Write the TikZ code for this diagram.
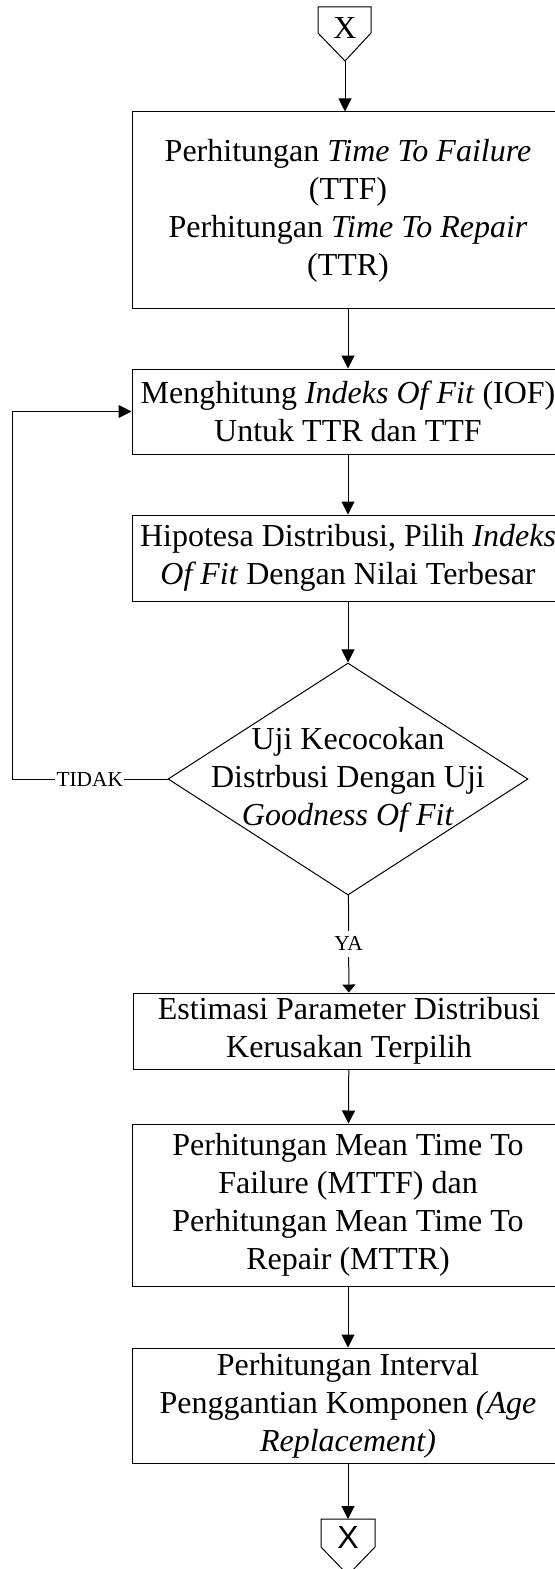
\documentclass[tikz,border=0pt]{standalone}
\usepackage{fontspec}
\setmainfont{Liberation Serif}
\newfontfamily\arialfont{Liberation Sans}
\usetikzlibrary{arrows.meta,shapes.geometric}

\tikzset{every picture/.style={line width=0.75pt}}
\tikzset{
	prosesbox/.style={draw, minimum width=324pt, inner sep=0pt, align=center, font=\fontsize{24}{28.5}\selectfont},
	keputusan/.style={draw, diamond, minimum width=270pt, minimum height=174pt, inner sep=0pt},
	teksbesar/.style={align=center, inner sep=0pt, font=\fontsize{24}{28.5}\selectfont},
	tekskecil/.style={fill=white, inner xsep=1pt, inner ysep=4.5pt, font=\fontsize{16}{19}\selectfont},
	panah/.style={-{Triangle[length=9.75pt,width=9.75pt]}},
	panahkecil/.style={-{Triangle[length=6pt,width=9.75pt]}}
}

\begin{document}
\begin{tikzpicture}[x=0.75pt,y=0.75pt,yscale=-1,xscale=1]
	\useasboundingbox (0,0) rectangle (554,1569);

	%Shape: Off-page connector [top]
	\draw (318,7) -- (371,7) -- (371,33) -- (345,61) -- (318,33) -- cycle ;
	\coordinate (xatasujung) at (345,61);
	% Text Node
	\node[teksbesar] (xatas) at (345,28) {X};

	%Shape: Rectangle [TTF dan TTR]
	\node[prosesbox, minimum height=147.75pt] (ttf) at (348,210.5) {Perhitungan \textit{Time To Failure}\\(TTF)\\Perhitungan \textit{Time To Repair}\\(TTR)};
	%Shape: Rectangle [IOF]
	\node[prosesbox, minimum height=63.75pt] (iof) at (348,411.5) {Menghitung \textit{Indeks Of Fit} (IOF)\\Untuk TTR dan TTF};
	%Shape: Rectangle [hipotesa]
	\node[prosesbox, minimum height=64.5pt] (hipotesa) at (348,558) {Hipotesa Distribusi, Pilih \textit{Indeks}\\\textit{Of Fit} Dengan Nilai Terbesar};

	%Shape: Diamond [uji]
	\node[keputusan] (uji) at (348,779) {};
	% Text Node
	\node[teksbesar] (ujiteks) at (348,780) {Uji Kecocokan\\Distrbusi Dengan Uji\\\textit{Goodness Of Fit}};
	\coordinate (kiri) at (12,779);

	%Shape: Rectangle [estimasi]
	\node[prosesbox, minimum height=57pt] (estimasi) at (349,1031) {Estimasi Parameter Distribusi\\Kerusakan Terpilih};
	%Shape: Rectangle [MTTF dan MTTR]
	\node[prosesbox, minimum height=121.5pt] (mttf) at (348,1205) {Perhitungan Mean Time To\\Failure (MTTF) dan\\Perhitungan Mean Time To\\Repair (MTTR)};
	%Shape: Rectangle [age replacement]
	\node[prosesbox, minimum height=86.25pt] (age) at (348,1405.5) {Perhitungan Interval\\Penggantian Komponen \textit{(Age}\\\textit{Replacement)}};

	%Shape: Off-page connector [bottom]
	\draw (321,1519) -- (375,1519) -- (375,1547) -- (348,1575) -- (321,1547) -- cycle ;
	\coordinate (xbawahatas) at (348,1519);
	% Text Node
	\node[teksbesar, font=\fontsize{24}{28.5}\arialfont] (xbawah) at (348,1537) {X};

	%Straight Lines [arrows]
	\draw[panah] (xatasujung) -- (xatasujung |- ttf.north);
	\draw[panah] (ttf) -- (iof);
	\draw[panah] (iof) -- (hipotesa);
	\draw[panah] (hipotesa) -- (uji);
	\draw[panahkecil] (uji) -- node[tekskecil] {YA} (estimasi);
	\draw[panah] (uji.west) -- node[tekskecil] {TIDAK} (kiri) |- (iof.west);
	\draw[panah] (estimasi) -- (mttf);
	\draw[panah] (mttf) -- (age);
	\draw[panah] (age) -- (xbawahatas);

\end{tikzpicture}
\end{document}
